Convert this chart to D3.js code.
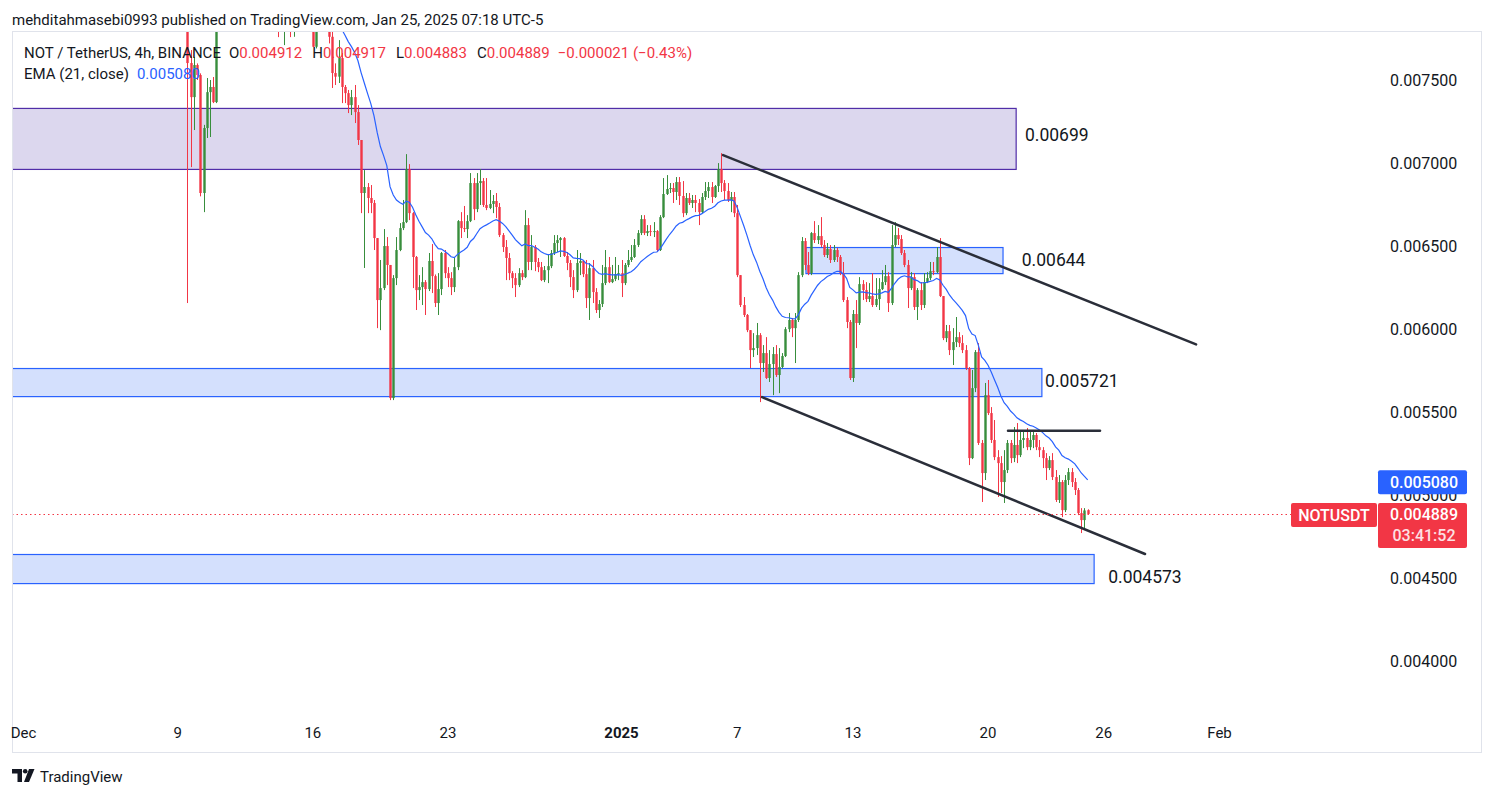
<!DOCTYPE html>
<html>
<head>
<meta charset="utf-8">
<script src="https://cdn.jsdelivr.net/npm/d3@7"></script>
<style>
  body { margin: 0; background: #fff; }
  svg text { font-family: Roboto, "Noto Sans", "DejaVu Sans", sans-serif; fill: #131722; }
</style>
</head>
<body>
<svg id="chart" width="1495" height="798"></svg>
<script>
// ---- data (prices in units of 0.000001 USDT, 4h bars, chart time UTC-5) ----
var barStart = "2024-12-09T15:00";
var barHours = 4;
var firstOpen = 7900;
var lastOpen = 4912;
var emaLength = 21;
var emaSeed = 9000;   // EMA level carried in from the bars above the visible range
var emaLast = 5080;
var countdown = "03:41:52";

var closes = [
  7602,7397,7590,7530,6820,7211,7427,7458,7367,7850,
  7950,8050,8100,8150,8120,8200,8180,8250,8220,8180,
  8140,8100,8120,8060,8020,8050,7990,7960,7900,7930,
  7950,7980,7910,7960,8010,8060,8020,7980,7950,7700,
  7820,7880,7900,7860,7760,7542,7520,7632,7458,7421,
  7349,7397,7307,7139,6820,6856,6790,6760,6549,6176,
  6248,6501,6387,5586,6308,6477,6609,6645,6964,6699,
  6435,6236,6254,6284,6242,6411,6320,6158,6242,6459,
  6338,6308,6254,6374,6651,6609,6603,6651,6880,6723,
  6880,6892,6748,6730,6754,6772,6736,6567,6495,6429,
  6338,6308,6266,6338,6314,6627,6405,6495,6405,6374,
  6296,6356,6380,6459,6519,6537,6549,6441,6399,6314,
  6236,6399,6411,6332,6188,6368,6224,6116,6152,6278,
  6374,6284,6302,6332,6338,6278,6387,6417,6435,6507,
  6579,6663,6579,6591,6585,6591,6477,6675,6814,6844,
  6850,6826,6886,6802,6699,6790,6760,6778,6760,6705,
  6796,6832,6856,6796,6862,6964,6880,6832,6778,6796,
  6699,6326,6146,6086,5995,5875,5887,5965,5797,5857,
  5707,5791,5851,5725,5773,5839,6001,6056,6007,6056,
  6326,6531,6387,6338,6579,6537,6561,6507,6447,6483,
  6417,6477,6435,6338,6176,6044,5707,6092,6038,6272,
  6236,6182,6200,6146,6182,6242,6284,6320,6158,6507,
  6567,6543,6459,6387,6248,6314,6134,6236,6146,6284,
  6308,6350,6344,6435,6200,5947,5989,5875,5923,5953,
  5917,5875,5767,5225,5646,5863,5316,5135,5604,5496,
  5334,5231,5195,5081,5153,5316,5225,5304,5243,5334,
  5346,5291,5334,5364,5291,5273,5225,5165,5213,5111,
  4973,5081,4912,5093,5141,5081,5033,4894,4852,4910,
  4889
];
var highs = [
  8020,7680,7638,7600,7540,7230,7512,7500,7518,7900,
  8000,8090,8160,8200,8190,8240,8250,8300,8290,8240,
  8210,8170,8160,8140,8090,8100,8070,8020,7990,7980,
  8000,8030,8000,7990,8050,8100,8090,8040,8000,7960,
  7880,7930,7950,7920,7870,7790,7600,7740,7662,7470,
  7440,7440,7470,7349,7139,6958,6880,6868,6778,6549,
  6417,6603,6555,6387,6326,6555,6639,6778,7054,6994,
  6705,6441,6326,6374,6296,6459,6513,6330,6338,6465,
  6477,6374,6344,6435,6657,6705,6742,6687,6940,6910,
  6940,6964,6910,6910,6838,6808,6820,6760,6579,6537,
  6459,6350,6338,6368,6356,6717,6669,6567,6507,6429,
  6405,6381,6447,6477,6567,6567,6555,6555,6465,6417,
  6356,6477,6459,6417,6417,6399,6417,6248,6176,6387,
  6477,6435,6387,6435,6387,6417,6399,6477,6507,6543,
  6597,6687,6687,6627,6627,6645,6597,6687,6910,6928,
  6880,6880,6916,6916,6892,6820,6820,6808,6808,6784,
  6820,6886,6886,6886,6868,7000,7060,6898,6880,6826,
  6826,6748,6326,6194,6092,5995,5977,6038,5977,5905,
  5953,5875,5893,5905,5887,5857,6013,6098,6068,6098,
  6344,6555,6549,6465,6585,6651,6627,6675,6537,6519,
  6507,6507,6489,6447,6405,6194,6056,6116,6176,6314,
  6296,6284,6278,6338,6308,6308,6356,6387,6344,6627,
  6645,6609,6567,6477,6417,6344,6338,6248,6284,6338,
  6344,6405,6405,6495,6549,6200,6026,6026,6007,6074,
  5983,5965,5905,5773,5755,5875,5917,5334,5677,5695,
  5532,5454,5273,5237,5273,5334,5334,5412,5436,5382,
  5394,5406,5394,5394,5376,5334,5291,5255,5237,5255,
  5153,5123,5093,5123,5165,5165,5105,5045,4924,4924,
  4917
];
var lows = [
  6158,6976,7199,7500,6800,6705,7151,7157,7361,7361,
  7820,7920,8010,8060,8080,8100,8120,8150,8170,8130,
  8090,8050,8060,8010,7960,7990,7940,7900,7758,7830,
  7710,7860,7758,7760,7890,7980,7970,7920,7830,7698,
  7690,7800,7840,7800,7720,7452,7470,7482,7361,7361,
  7301,7289,7241,7109,6699,6369,6699,6699,6477,6007,
  5995,6236,6266,5574,5574,6266,6470,6597,6639,6657,
  6248,6116,6176,6146,6086,6230,6218,6134,6086,6206,
  6308,6254,6206,6224,6356,6549,6585,6549,6645,6657,
  6705,6748,6736,6717,6723,6699,6669,6555,6465,6296,
  6296,6248,6194,6254,6296,6308,6356,6356,6350,6344,
  6290,6284,6278,6368,6447,6465,6435,6435,6356,6254,
  6188,6224,6326,6314,6128,6056,6158,6098,6068,6134,
  6266,6278,6278,6290,6296,6194,6266,6374,6405,6429,
  6495,6567,6567,6561,6561,6555,6465,6471,6669,6808,
  6820,6760,6778,6748,6675,6687,6748,6730,6705,6627,
  6699,6778,6790,6760,6790,6826,6826,6778,6766,6705,
  6675,6314,6134,6074,5983,5767,5833,5845,5562,5743,
  5701,5683,5604,5713,5616,5767,5833,5983,5953,5797,
  6044,6314,6356,6326,6326,6519,6513,6495,6435,6429,
  6399,6405,6405,6326,6164,6007,5695,5683,5887,6026,
  6176,6164,6164,6134,6134,6116,6236,6266,6104,6146,
  6495,6507,6447,6374,6128,6236,6116,6056,6116,6128,
  6278,6296,6326,6338,6194,5935,5923,5845,5785,5893,
  5893,5857,5755,5183,5219,5622,5304,4961,5093,5484,
  5316,5213,4991,5015,4955,5135,5195,5201,5195,5231,
  5285,5273,5273,5285,5273,5231,5165,5093,5153,5093,
  4961,4955,4870,4900,5063,5051,5003,4882,4774,4792,
  4883
];

var priceTicks = [4000, 4500, 5000, 5500, 6000, 6500, 7000, 7500];
var dateTicks = [
  { t: "2024-12-01T03:00", label: "Dec" },
  { t: "2024-12-09T03:00", label: "9" },
  { t: "2024-12-16T03:00", label: "16" },
  { t: "2024-12-23T03:00", label: "23" },
  { t: "2025-01-01T03:00", label: "2025", bold: true },
  { t: "2025-01-07T03:00", label: "7" },
  { t: "2025-01-13T03:00", label: "13" },
  { t: "2025-01-20T03:00", label: "20" },
  { t: "2025-01-26T03:00", label: "26" },
  { t: "2025-02-01T03:00", label: "Feb" }
];

var zones = [
  { from: "2024-11-30T00:00", to: "2025-01-21T14:00", low: 6965, high: 7332, kind: "supply" },
  { from: "2025-01-10T16:30", to: "2025-01-20T21:40", low: 6338, high: 6495, kind: "demand" },
  { from: "2024-11-30T00:00", to: "2025-01-22T22:00", low: 5598, high: 5767, kind: "demand" },
  { from: "2024-11-30T00:00", to: "2025-01-25T15:00", low: 4473, high: 4648, kind: "demand" }
];
var zoneLabels = [
  { text: "0.00699", t: "2025-01-22T01:00", p: 7169 },
  { text: "0.00644", t: "2025-01-21T21:00", p: 6417 },
  { text: "0.005721", t: "2025-01-23T02:00", p: 5689 },
  { text: "0.004573", t: "2025-01-26T08:30", p: 4509 }
];
var trendLines = [
  { t1: "2025-01-06T09:20", p1: 7048, t2: "2025-01-30T21:50", p2: 5909 },
  { t1: "2025-01-08T09:50", p1: 5592, t2: "2025-01-28T06:20", p2: 4648 },
  { t1: "2025-01-21T03:50", p1: 5389, t2: "2025-01-25T22:20", p2: 5389 }
];

// ---- chart ----
var upColor = "#388e3c", downColor = "#f23645", emaColor = "#2962ff";
var plot = { left: 12, right: 1380, top: 32, bottom: 718 };
var parse = d3.utcParse("%Y-%m-%dT%H:%M");
var fmt6 = function (v) { return d3.format(".6f")(v / 1e6); };

var x = d3.scaleUtc()
  .domain([parse("2024-12-01T00:00"), parse("2025-02-01T00:00")])
  .range([21.1, 1217.1]);
var y = d3.scaleLinear().domain([4000, 7500]).range([661.7, 80]);

var t0 = parse(barStart);
var bars = closes.map(function (c, i) {
  var o = i === 0 ? firstOpen : (i === closes.length - 1 ? lastOpen : closes[i - 1]);
  return {
    t: new Date(+t0 + i * barHours * 3600e3),
    o: o, c: c,
    h: Math.max(highs[i], o, c),
    l: Math.min(lows[i], o, c)
  };
});
var alpha = 2 / (emaLength + 1), e = emaSeed;
bars.forEach(function (b) { e = alpha * b.c + (1 - alpha) * e; b.ema = e; });

var svg = d3.select("#chart");
svg.append("rect").attr("width", 1495).attr("height", 798).attr("fill", "#fff");

svg.append("defs").append("clipPath").attr("id", "plotClip")
  .append("rect")
  .attr("x", plot.left).attr("y", plot.top)
  .attr("width", plot.right - plot.left).attr("height", plot.bottom - plot.top);

var g = svg.append("g").attr("clip-path", "url(#plotClip)");

// zones
g.selectAll("rect.zone").data(zones).enter().append("rect")
  .attr("class", "zone")
  .attr("x", function (d) { return x(parse(d.from)); })
  .attr("y", function (d) { return y(d.high) + 0.5; })
  .attr("width", function (d) { return x(parse(d.to)) - x(parse(d.from)); })
  .attr("height", function (d) { return y(d.low) - y(d.high); })
  .attr("fill", function (d) { return d.kind === "supply" ? "#dcd7ee" : "#d4e0fd"; })
  .attr("stroke", function (d) { return d.kind === "supply" ? "#512da8" : "#2962ff"; })
  .attr("stroke-width", 1.2);

// candles
var bw = 2.4;
var cg = g.selectAll("g.bar").data(bars).enter().append("g").attr("class", "bar");
cg.append("line")
  .attr("x1", function (d) { return Math.round(x(d.t)) + 0.5; })
  .attr("x2", function (d) { return Math.round(x(d.t)) + 0.5; })
  .attr("y1", function (d) { return y(d.h); })
  .attr("y2", function (d) { return y(d.l); })
  .attr("stroke", function (d) { return d.c >= d.o ? upColor : downColor; })
  .attr("stroke-width", 1);
cg.append("rect")
  .attr("x", function (d) { return Math.round(x(d.t)) + 0.5 - bw / 2; })
  .attr("y", function (d) { return y(Math.max(d.o, d.c)); })
  .attr("width", bw)
  .attr("height", function (d) { return Math.max(1, Math.abs(y(d.o) - y(d.c))); })
  .attr("fill", function (d) { return d.c >= d.o ? upColor : downColor; });

// EMA
g.append("path").datum(bars)
  .attr("fill", "none").attr("stroke", emaColor).attr("stroke-width", 1.2)
  .attr("d", d3.line().x(function (d) { return x(d.t); }).y(function (d) { return y(d.ema); }));

// trend lines
g.selectAll("line.trend").data(trendLines).enter().append("line")
  .attr("x1", function (d) { return x(parse(d.t1)); })
  .attr("y1", function (d) { return y(d.p1); })
  .attr("x2", function (d) { return x(parse(d.t2)); })
  .attr("y2", function (d) { return y(d.p2); })
  .attr("stroke", "#2a2e39").attr("stroke-width", 2.5).attr("stroke-linecap", "round");

// zone labels
g.selectAll("text.zl").data(zoneLabels).enter().append("text")
  .attr("x", function (d) { return x(parse(d.t)); })
  .attr("y", function (d) { return y(d.p); })
  .attr("dy", "0.35em")
  .style("font-size", "17.5px")
  .text(function (d) { return d.text; });

// last price dotted line
var last = bars[bars.length - 1];
svg.append("line")
  .attr("x1", plot.left).attr("x2", 1291)
  .attr("y1", Math.round(y(last.c)) + 0.5).attr("y2", Math.round(y(last.c)) + 0.5)
  .attr("stroke", downColor).attr("stroke-width", 1).attr("stroke-dasharray", "1.5,3");

// frame
svg.append("rect")
  .attr("x", 12.5).attr("y", 31.5).attr("width", 1469).attr("height", 721)
  .attr("fill", "none").attr("stroke", "#e0e3eb");

// price axis
svg.selectAll("text.pt").data(priceTicks).enter().append("text")
  .attr("x", 1390).attr("y", function (d) { return y(d); }).attr("dy", "0.35em")
  .style("font-size", "16px")
  .text(fmt6);

// time axis
svg.selectAll("text.dt").data(dateTicks).enter().append("text")
  .attr("x", function (d) { return x(parse(d.t)); }).attr("y", 733).attr("dy", "0.35em")
  .attr("text-anchor", "middle")
  .style("font-size", "15px")
  .style("font-weight", function (d) { return d.bold ? "700" : "400"; })
  .text(function (d) { return d.label; });

// price labels on axis (the EMA tag sits over the 0.005000 tick, as on the original)
var yE = y(emaLast);
svg.append("rect").attr("x", 1378).attr("y", yE - 12).attr("width", 89).attr("height", 24)
  .attr("rx", 2).attr("fill", emaColor);
svg.append("text").attr("x", 1424).attr("y", yE).attr("dy", "0.36em").attr("text-anchor", "middle")
  .style("font-size", "16px").style("font-weight", "500").style("fill", "#fff").text(fmt6(emaLast));

var yL = y(last.c);
svg.append("rect").attr("x", 1378).attr("y", yL - 11).attr("width", 89).attr("height", 45)
  .attr("rx", 2).attr("fill", downColor);
svg.append("text").attr("x", 1424).attr("y", yL).attr("dy", "0.36em").attr("text-anchor", "middle")
  .style("font-size", "16px").style("font-weight", "500").style("fill", "#fff").text(fmt6(last.c));
svg.append("text").attr("x", 1424).attr("y", yL + 21).attr("dy", "0.36em").attr("text-anchor", "middle")
  .style("font-size", "16px").style("font-weight", "500").style("fill", "#fde0e3").text(countdown);
svg.append("rect").attr("x", 1291).attr("y", yL - 11).attr("width", 86).attr("height", 24)
  .attr("rx", 2).attr("fill", downColor);
svg.append("text").attr("x", 1334).attr("y", yL + 1).attr("dy", "0.36em").attr("text-anchor", "middle")
  .style("font-size", "16px").style("font-weight", "500").style("fill", "#fff").text("NOTUSDT");

// header
svg.append("text").attr("x", 12).attr("y", 25).style("font-size", "15px")
  .text("mehditahmasebi0993 published on TradingView.com, Jan 25, 2025 07:18 UTC-5");

var chg = last.c - closes[closes.length - 2];
var pct = chg / closes[closes.length - 2] * 100;
var minus = function (s) { return s.replace("-", "\u2212"); };
var leg = svg.append("text").attr("x", 24).attr("y", 58).style("font-size", "15px");
leg.append("tspan").text("NOT / TetherUS, 4h, BINANCE");
[["O", last.o], ["H", last.h], ["L", last.l], ["C", last.c]].forEach(function (p, i) {
  leg.append("tspan").attr("dx", i === 0 ? 8 : 10).text(p[0]);
  leg.append("tspan").style("fill", downColor).text(fmt6(p[1]));
});
leg.append("tspan").attr("dx", 8).style("fill", downColor)
  .text(minus(d3.format(".6f")(chg / 1e6)) + " (" + minus(d3.format(".2f")(pct)) + "%)");

var leg2 = svg.append("text").attr("x", 24).attr("y", 79).style("font-size", "15px");
leg2.append("tspan").text("EMA (21, close)");
leg2.append("tspan").attr("dx", 8).style("fill", emaColor).text(fmt6(emaLast));

// footer logo
var logo = svg.append("g").attr("fill", "#131722");
logo.append("path").attr("d", "M12,769 h10 v13 h-4.5 v-8.5 h-5.5 z");
logo.append("circle").attr("cx", 25.2).attr("cy", 771.3).attr("r", 2.3);
logo.append("path").attr("d", "M29,769 h5.5 l-5.5 13 h-5 z");
svg.append("text").attr("x", 40).attr("y", 782).style("font-size", "15px").text("TradingView");
</script>
</body>
</html>
